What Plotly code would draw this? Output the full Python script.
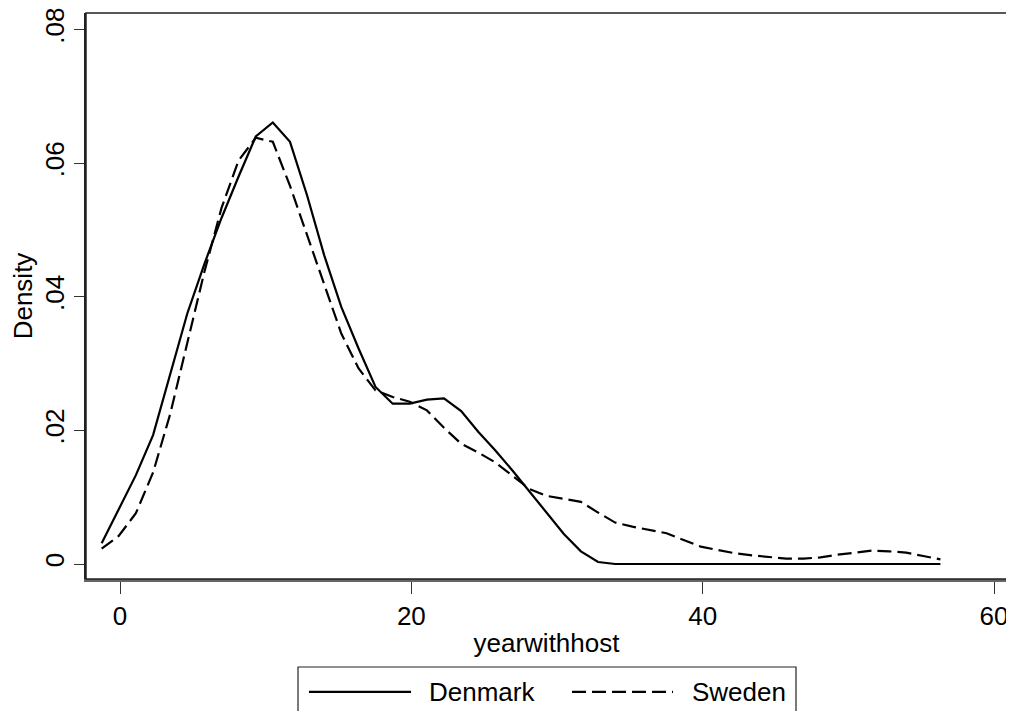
import plotly.graph_objects as go

# evaluation grid (years with host)
years = [-1.26, -0.09, 1.09, 2.27, 3.44, 4.62, 5.79, 6.97, 8.14, 9.32,
         10.49, 11.67, 12.84, 14.02, 15.19, 16.37, 17.54, 18.72, 19.89, 21.07,
         22.24, 23.42, 24.59, 25.77, 26.94, 28.12, 29.29, 30.47, 31.64, 32.82,
         33.99, 35.17, 36.34, 37.52, 38.69, 39.87, 41.04, 42.22, 43.39, 44.57,
         45.74, 46.92, 48.09, 49.27, 50.44, 51.62, 52.79, 53.97, 55.14, 56.32]

denmark = [0.0031, 0.0082, 0.0133, 0.0193, 0.0284, 0.0375, 0.0449, 0.0518, 0.0580, 0.0640,
           0.0661, 0.0632, 0.0552, 0.0462, 0.0385, 0.0323, 0.0265, 0.0240, 0.0240, 0.0246,
           0.0248, 0.0229, 0.0198, 0.0170, 0.0140, 0.0108, 0.0078, 0.0045, 0.0019, 0.0003,
           0.0, 0.0, 0.0, 0.0, 0.0, 0.0, 0.0, 0.0, 0.0, 0.0,
           0.0, 0.0, 0.0, 0.0, 0.0, 0.0, 0.0, 0.0, 0.0, 0.0]

sweden = [0.0023, 0.0042, 0.0076, 0.0137, 0.0224, 0.0330, 0.0437, 0.0533, 0.0604, 0.0638,
          0.0632, 0.0566, 0.0492, 0.0416, 0.0345, 0.0293, 0.0260, 0.0250, 0.0243, 0.0230,
          0.0204, 0.0180, 0.0167, 0.0152, 0.0132, 0.0112, 0.0102, 0.0097, 0.0093, 0.0077,
          0.0062, 0.0056, 0.0051, 0.0046, 0.0036, 0.0026, 0.0021, 0.0016, 0.0013, 0.0010,
          0.0008, 0.0008, 0.0010, 0.0014, 0.0017, 0.0020, 0.0019, 0.0017, 0.0012, 0.0007]

series_names = ["Denmark", "Sweden"]
x_ticks = [0, 20, 40, 60]
x_ticklabels = ["0", "20", "40", "60"]
y_ticks = [0, 0.02, 0.04, 0.06, 0.08]
y_ticklabels = ["0", ".02", ".04", ".06", ".08"]

FONT = "Liberation Sans, Arial, sans-serif"
DASH = "14px,6px"

fig = go.Figure()
fig.add_trace(go.Scatter(x=years, y=denmark, mode="lines", name=series_names[0],
                         line=dict(color="black", width=2.2), showlegend=False))
fig.add_trace(go.Scatter(x=years, y=sweden, mode="lines", name=series_names[1],
                         line=dict(color="black", width=2.2, dash=DASH), showlegend=False))

# page body adds an 8px offset, so the figure is 8px smaller than the window
fig.update_layout(
    template="none",
    width=1006, height=703,
    margin=dict(l=78, r=7, t=5, b=132, autoexpand=False),
    paper_bgcolor="white", plot_bgcolor="white",
    font=dict(family=FONT, size=26, color="black"),
    showlegend=False,
    xaxis=dict(range=[-2.334, 60.89], tickvals=x_ticks, ticktext=x_ticklabels,
               ticks="outside", ticklen=12, tickwidth=1.2, tickcolor="#333",
               automargin=False, ticklabeloverflow="allow",
               showgrid=False, zeroline=False, showline=True, linecolor="#666",
               linewidth=3,
               title=dict(text="yearwithhost", font=dict(size=26), standoff=4)),
    yaxis=dict(range=[-0.002244, 0.08248], tickvals=y_ticks, ticktext=y_ticklabels,
               ticks="outside", ticklen=10, tickwidth=1.2, tickcolor="#333",
               tickangle=-90, automargin=False, ticklabeloverflow="allow",
               showgrid=False, zeroline=False, showline=True, linecolor="#222",
               linewidth=1.5,
               title=dict(text="Density", font=dict(size=26), standoff=2)),
)

# plot frame
fig.add_shape(type="rect", xref="paper", yref="paper", x0=0, x1=1, y0=0, y1=1,
              line=dict(color="#222", width=1.5), layer="above")

# legend box drawn as in the reference (long line samples)
fig.add_shape(type="rect", xref="paper", yref="paper",
              x0=0.2302, x1=0.7709, y0=-0.2845, y1=-0.1555,
              line=dict(color="#222", width=1.2), fillcolor="white")
fig.add_shape(type="line", xref="paper", yref="paper",
              x0=0.2421, x1=0.3529, y0=-0.1996, y1=-0.1996,
              line=dict(color="black", width=2.2))
fig.add_shape(type="line", xref="paper", yref="paper",
              x0=0.5277, x1=0.6374, y0=-0.1996, y1=-0.1996,
              line=dict(color="black", width=2.2, dash=DASH))
fig.add_annotation(xref="paper", yref="paper", x=0.3703, y=-0.1996,
                   text=series_names[0], showarrow=False, xanchor="left",
                   yanchor="middle", font=dict(size=26))
fig.add_annotation(xref="paper", yref="paper", x=0.6558, y=-0.1996,
                   text=series_names[1], showarrow=False, xanchor="left",
                   yanchor="middle", font=dict(size=26))

fig.write_html("out.html")
